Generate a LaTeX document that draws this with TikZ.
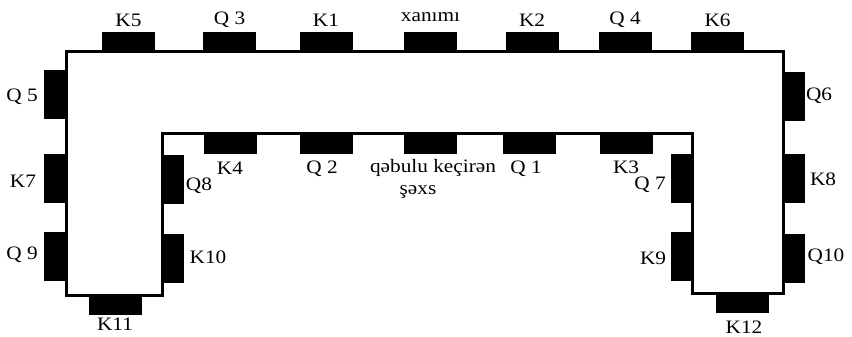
\documentclass[tikz,border=0pt]{standalone}
\usepackage{fontspec}
\setmainfont{Liberation Serif}
\newcommand{\wlbl}[1]{\scalebox{1.12}[1]{#1}}
\begin{document}
\begin{tikzpicture}[x=1pt,y=-1pt,
  hblk/.style={fill=black,draw=none,inner sep=0pt,minimum width=53pt,minimum height=20pt},
  vblk/.style={fill=black,draw=none,inner sep=0pt,minimum width=22pt,minimum height=49pt},
  lbl/.style={inner sep=0pt,font=\fontsize{19}{19}\selectfont},
  wall/.style={line width=3pt,line join=miter}]
\useasboundingbox (0,0) rectangle (852,337);
% top outer blocks
\node[hblk] (bK5) at (128.5,42) {};
\node[hblk] (bQ3) at (229.5,42) {};
\node[hblk] (bK1) at (326,42) {};
\node[hblk] (bX) at (430.5,42) {};
\node[hblk] (bK2) at (532,42) {};
\node[hblk] (bQ4) at (625,42) {};
\node[hblk] (bK6) at (717.5,42) {};
% inner top blocks
\node[hblk] (bK4) at (230,143.5) {};
\node[hblk] (bQ2) at (326.5,143.5) {};
\node[hblk] (bQB) at (430.5,143.5) {};
\node[hblk] (bQ1) at (529.5,143.5) {};
\node[hblk] (bK3) at (626,143.5) {};
% left outer
\node[vblk] (bQ5) at (55,94.5) {};
\node[vblk] (bK7) at (55,178.5) {};
\node[vblk] (bQ9) at (55,256.5) {};
% left inner
\node[vblk] (bQ8) at (173,179) {};
\node[vblk] (bK10) at (173,258) {};
% right inner
\node[vblk] (bQ7) at (681.5,178) {};
\node[vblk] (bK9) at (681.5,256) {};
% right outer
\node[vblk] (bQ6) at (793.5,96.5) {};
\node[vblk] (bK8) at (793.5,178.5) {};
\node[vblk] (bQ10) at (793.5,258) {};
% bottom blocks
\node[hblk] (bK11) at (115.5,304.5) {};
\node[hblk] (bK12) at (742.5,303) {};
% outline
\draw[wall] (66,52) -- (783,52) -- (783,293) -- (692,293) -- (692,133) -- (162,133) -- (162,295) -- (66,295) -- cycle;
% labels
\node[lbl] (lK5) at (128.5,20) {\wlbl{K5}};
\node[lbl] (lQ3) at (229.5,20) {\wlbl{Q 3}};
\node[lbl] (lK1) at (326,20) {\wlbl{K1}};
\node[lbl] (lX) at (430.5,17) {\wlbl{xanımı}};
\node[lbl] (lK2) at (532,20) {\wlbl{K2}};
\node[lbl] (lQ4) at (625,20) {\wlbl{Q 4}};
\node[lbl] (lK6) at (717.5,20) {\wlbl{K6}};
\node[lbl] (lQ5) at (22,97) {\wlbl{Q 5}};
\node[lbl] (lK7) at (23,181) {\wlbl{K7}};
\node[lbl] (lQ9) at (22,255) {\wlbl{Q 9}};
\node[lbl] (lK4) at (230,168) {\wlbl{K4}};
\node[lbl] (lQ8) at (199,186) {\wlbl{Q8}};
\node[lbl] (lK10) at (208,257) {\wlbl{K10}};
\node[lbl] (lK11) at (115,324) {\wlbl{K11}};
\node[lbl] (lQ2) at (322,169) {\wlbl{Q 2}};
\node[lbl] (lQB) at (433,168) {\wlbl{qəbulu keçirən}};
\node[lbl] (lS) at (418,192) {\wlbl{şəxs}};
\node[lbl] (lQ1) at (526,169) {\wlbl{Q 1}};
\node[lbl] (lK3) at (626,167) {\wlbl{K3}};
\node[lbl] (lQ7) at (650,185) {\wlbl{Q 7}};
\node[lbl] (lK9) at (653,258) {\wlbl{K9}};
\node[lbl] (lQ6) at (819,96) {\wlbl{Q6}};
\node[lbl] (lK8) at (823,179) {\wlbl{K8}};
\node[lbl] (lQ10) at (826,257) {\wlbl{Q10}};
\node[lbl] (lK12) at (744,327) {\wlbl{K12}};
\end{tikzpicture}
\end{document}
